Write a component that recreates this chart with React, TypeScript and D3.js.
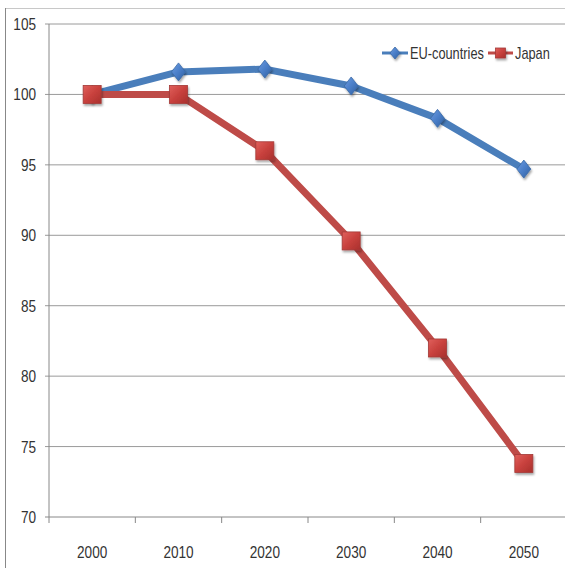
import React from "react";
import * as d3 from "d3";

const years = ["2000", "2010", "2020", "2030", "2040", "2050"];
const euValues = [100, 101.6, 101.8, 100.6, 98.3, 94.7];
const japanValues = [100, 100, 96, 89.6, 82.0, 73.8];
const yTicks = [70, 75, 80, 85, 90, 95, 100, 105];
const seriesNames = ["EU-countries", "Japan"];

const W = 565;
const H = 571;
const FONT = "'Liberation Sans Narrow', 'Liberation Sans', Arial, sans-serif";
const SX = 0.8;

export default function App() {
  const x = d3.scaleBand<string>().domain(years).range([49, 567]);
  const y = d3.scaleLinear().domain([70, 105]).range([517, 24]);
  const cx = (d: string) => (x(d) as number) + x.bandwidth() / 2;
  const line = d3
    .line<number>()
    .x((_, i) => cx(years[i]))
    .y((v) => y(v));

  const blue = "#4A7EBB";
  const red = "#BE4B48";

  const diamond = (px: number, py: number, key: string, w = 7, h = 9) => (
    <path
      key={key}
      d={`M${px},${py - h} L${px + w},${py} L${px},${py + h} L${px - w},${py} Z`}
      fill="url(#gBlue)"
      stroke="#3A6AA6"
      strokeWidth={0.8}
      filter="url(#shadow)"
    />
  );
  const square = (px: number, py: number, key: string, s = 9) => (
    <rect
      key={key}
      x={px - s}
      y={py - s}
      width={2 * s}
      height={2 * s}
      fill="url(#gRed)"
      stroke="#A33A37"
      strokeWidth={0.8}
      filter="url(#shadow)"
    />
  );

  const label = (
    tx: number,
    ty: number,
    str: string,
    anchor: "start" | "middle" | "end",
    size: number,
    key?: string
  ) => (
    <text
      key={key}
      transform={`translate(${tx},${ty}) scale(${SX},1)`}
      dy="0.35em"
      textAnchor={anchor}
      fontSize={size}
      fill="#333"
    >
      {str}
    </text>
  );

  return (
    <svg
      width={W}
      height={H}
      style={{ position: "absolute", left: 0, top: 0, background: "#fff" }}
      fontFamily={FONT}
    >
      <defs>
        <linearGradient id="gRed" x1="0" y1="0" x2="1" y2="1">
          <stop offset="0" stopColor="#E0605C" />
          <stop offset="0.5" stopColor="#C8413D" />
          <stop offset="1" stopColor="#A8302D" />
        </linearGradient>
        <linearGradient id="gBlue" x1="0" y1="0" x2="1" y2="1">
          <stop offset="0" stopColor="#6C9BE0" />
          <stop offset="0.5" stopColor="#4A7EC8" />
          <stop offset="1" stopColor="#2F5E9E" />
        </linearGradient>
        <filter id="shadow" x="-50%" y="-50%" width="200%" height="200%">
          <feDropShadow dx="1" dy="2" stdDeviation="1.2" floodColor="#000" floodOpacity="0.35" />
        </filter>
      </defs>

      {/* outer chart border */}
      <line x1={5} y1={8.5} x2={W} y2={8.5} stroke="#c8c8c8" strokeWidth={1} />
      <line x1={5.5} y1={8} x2={5.5} y2={568} stroke="#888" strokeWidth={1} />

      {/* gridlines */}
      {yTicks.map((t) => (
        <g key={t}>
          <line x1={45} x2={W} y1={y(t)} y2={y(t)} stroke={t === 70 ? "#888" : "#9a9a9a"} strokeWidth={1} />
          {label(36, y(t), String(t), "end", 17)}
        </g>
      ))}

      {/* y axis */}
      <line x1={49} x2={49} y1={y(105)} y2={y(70)} stroke="#888" strokeWidth={1} />

      {/* x axis ticks */}
      {years.map((yr, i) => (
        <g key={yr}>
          {i > 0 && (
            <line
              x1={x(yr) as number}
              x2={x(yr) as number}
              y1={y(70)}
              y2={y(70) + 6}
              stroke="#888"
            />
          )}
          {label(cx(yr), 552, yr, "middle", 17)}
        </g>
      ))}
      <line x1={49} x2={49} y1={y(70)} y2={y(70) + 6} stroke="#888" />

      {/* lines */}
      <path d={line(euValues) || ""} fill="none" stroke={blue} strokeWidth={7} strokeLinejoin="round" />
      <path d={line(japanValues) || ""} fill="none" stroke={red} strokeWidth={7} strokeLinejoin="round" />

      {euValues.map((v, i) => diamond(cx(years[i]), y(v), "eu" + i))}
      {japanValues.map((v, i) => square(cx(years[i]), y(v), "jp" + i))}

      {/* legend */}
      <g>
        <line x1={382} x2={408} y1={53} y2={53} stroke={blue} strokeWidth={3} />
        {diamond(395, 53, "legd", 5, 6)}
        {label(410, 53, seriesNames[0], "start", 16)}
        <line x1={488} x2={513} y1={53} y2={53} stroke={red} strokeWidth={3} />
        {square(500.5, 53, "legs", 5)}
        {label(515, 53, seriesNames[1], "start", 16)}
      </g>
    </svg>
  );
}
